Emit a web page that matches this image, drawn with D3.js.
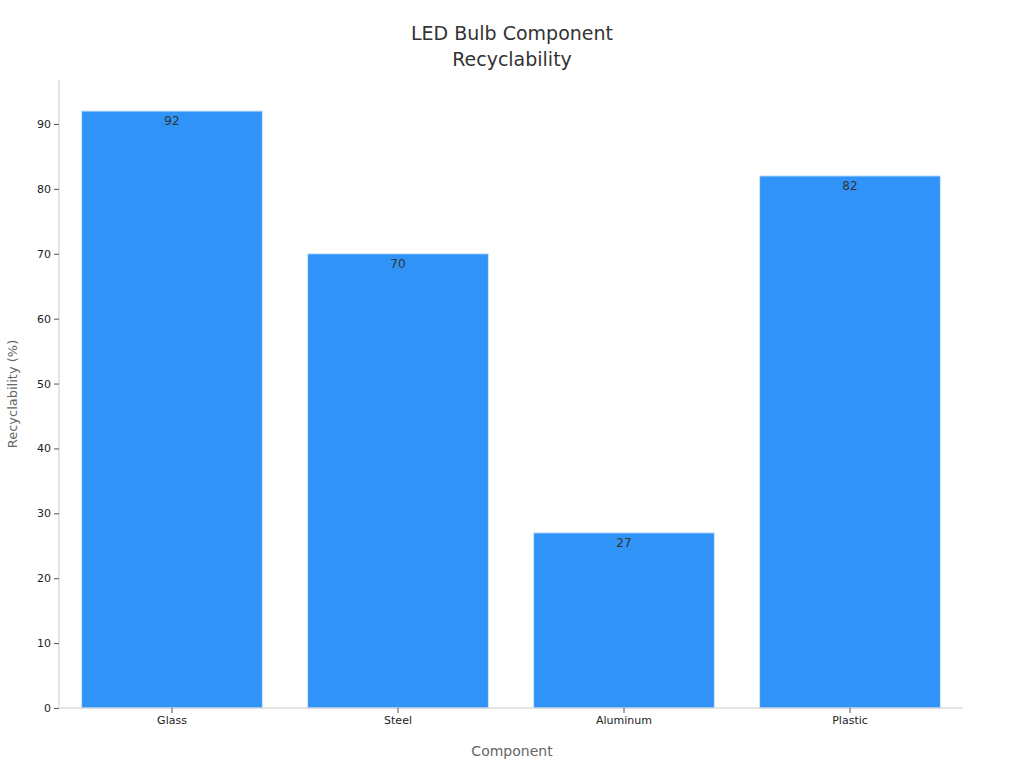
<!DOCTYPE html>
<html><head><meta charset="utf-8">
<script src="https://cdn.jsdelivr.net/npm/d3@7"></script>
<style>body{margin:0;background:#fff;font-family:"DejaVu Sans",sans-serif;}</style>
</head><body><div id="chart"></div>
<script>
var categories = ['Glass', 'Steel', 'Aluminum', 'Plastic'];
var values = [92, 70, 27, 82];
var yTicks = [0, 10, 20, 30, 40, 50, 60, 70, 80, 90];

var W = 1024, H = 768;
var m = {left: 59, right: 61, top: 80, bottom: 60};
var svg = d3.select('#chart').append('svg').attr('width', W).attr('height', H);

var x = d3.scaleBand().domain(categories).range([m.left, W - m.right]).paddingInner(0.2).paddingOuter(0.1);
var y = d3.scaleLinear().domain([0, 90]).range([708, 124]);

svg.append('text').attr('x', 512).attr('y', 40).attr('text-anchor', 'middle')
    .style('font-size', '19px').style('fill', '#333').text('LED Bulb Component');
svg.append('text').attr('x', 512).attr('y', 66).attr('text-anchor', 'middle')
    .style('font-size', '19px').style('fill', '#333').text('Recyclability');

svg.selectAll('.bar').data(values).enter().append('rect')
    .attr('x', function(d, i) { return x(categories[i]); })
    .attr('y', function(d) { return y(d); })
    .attr('width', x.bandwidth())
    .attr('height', function(d) { return y(0) - y(d); })
    .style('fill', '#2f93f8').style('stroke', '#cfe6fd').style('stroke-width', 1);

svg.selectAll('.lbl').data(values).enter().append('text')
    .attr('x', function(d, i) { return x(categories[i]) + x.bandwidth() / 2; })
    .attr('y', function(d) { return y(d) + 14; })
    .attr('text-anchor', 'middle').style('font-size', '12px').style('fill', '#333')
    .text(function(d) { return d; });

var yAxis = svg.append('g').attr('transform', 'translate(' + m.left + ',0)')
    .call(d3.axisLeft(y).tickValues(yTicks).tickSize(5).tickSizeOuter(0));
yAxis.select('.domain').attr('d', 'M0,' + m.top + 'V708');
var xAxis = svg.append('g').attr('transform', 'translate(0,708)')
    .call(d3.axisBottom(x).tickSize(5).tickSizeOuter(0));
xAxis.select('.domain').attr('d', 'M' + m.left + ',0H' + (W - m.right));
svg.selectAll('.domain').style('stroke', '#ccc');
svg.selectAll('.tick line').style('stroke', '#555');
svg.selectAll('.tick text').style('font-size', '11px').style('fill', '#222').style('font-family', '"DejaVu Sans",sans-serif');

svg.append('text').attr('x', 512).attr('y', 756).attr('text-anchor', 'middle')
    .style('font-size', '14px').style('fill', '#666').text('Component');
svg.append('text').attr('transform', 'translate(17,394) rotate(-90)').attr('text-anchor', 'middle')
    .style('font-size', '13px').style('fill', '#666').text('Recyclability (%)');
</script></body></html>
